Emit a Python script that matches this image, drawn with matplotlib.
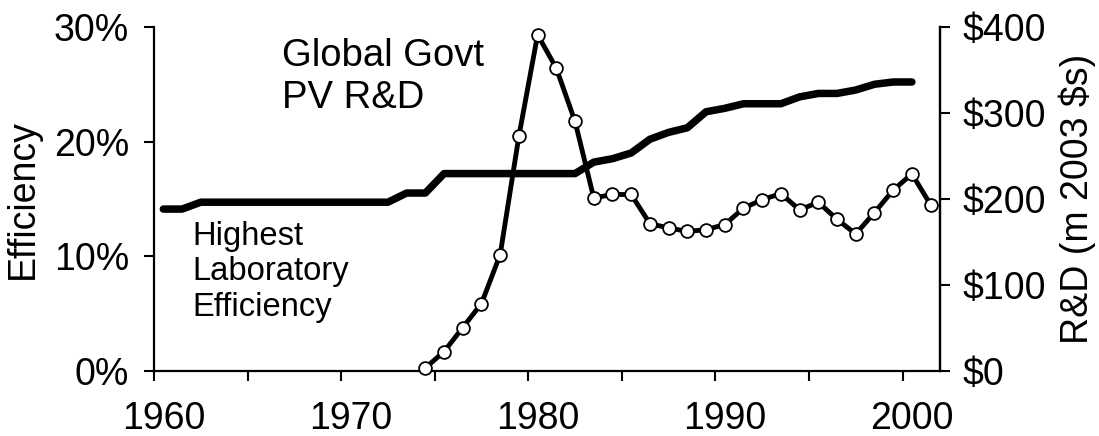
import matplotlib
matplotlib.use("Agg")
import matplotlib.pyplot as plt
from matplotlib.transforms import ScaledTranslation
import numpy as np

plt.rcParams['font.family'] = ['Liberation Sans', 'DejaVu Sans']

#%% Data (points sit in the middle of each year)

eff_years = list(range(1960, 2001))
eff_values = [14.1, 14.1, 14.7, 14.7, 14.7, 14.7, 14.7, 14.7, 14.7, 14.7,
              14.7, 14.7, 14.7, 15.5, 15.5, 17.2, 17.2, 17.2, 17.2, 17.2,
              17.2, 17.2, 17.2, 18.2, 18.5, 19.0, 20.2, 20.8, 21.2, 22.6,
              22.9, 23.3, 23.3, 23.3, 23.9, 24.2, 24.2, 24.5, 25.0, 25.2,
              25.2]

rd_years = list(range(1974, 2002))
rd_values = [3, 22, 50, 78, 135, 273, 391, 352, 290, 201,
             205, 205, 171, 166, 162, 164, 170, 189, 199, 206,
             187, 196, 176, 159, 184, 210, 229, 193]

eff_ticks = [0, 10, 20, 30]
eff_labels = ['0%', '10%', '20%', '30%']
rd_ticks = [0, 100, 200, 300, 400]
rd_labels = [r'\$0', r'\$100', r'\$200', r'\$300', r'\$400']
year_ticks = [1960, 1970, 1980, 1990, 2000]

#%% Plot

fig = plt.figure(figsize=(10.99, 4.36), dpi=100)
ax = fig.add_axes([0.1401, 0.1502, 0.7152, 0.7878])
ax2 = ax.twinx()

ax.plot(np.array(eff_years) + 0.5, eff_values, color='black', lw=5.4,
        solid_capstyle='round', solid_joinstyle='round', zorder=2)
ax2.plot(np.array(rd_years) + 0.5, rd_values, color='black', lw=3.5,
         marker='o', ms=9.2, mfc='white', mec='black', mew=1.3,
         clip_on=False, zorder=3)

ax.set_xlim(1960, 2002)
ax.set_ylim(0, 30)
ax2.set_ylim(0, 400)

for a in (ax, ax2):
    a.spines['top'].set_visible(False)
    for s in a.spines.values():
        s.set_linewidth(1.6)
ax2.spines['left'].set_visible(False)
ax2.spines['bottom'].set_visible(False)

ax.set_xticks(year_ticks)
ax.set_xticks([1965, 1975, 1985, 1995], minor=True)
ax.set_yticks(eff_ticks, eff_labels)
ax2.set_yticks(rd_ticks, rd_labels)

ax.tick_params(axis='x', which='both', direction='out', length=7, width=1.5,
               labelsize=27, pad=15)
ax.tick_params(axis='y', direction='out', length=7, width=1.5,
               labelsize=27, pad=11)
ax2.tick_params(axis='y', direction='out', length=7, width=1.5,
                labelsize=27, pad=9.5)

# labels in the source sit half a year right of their tick
shift = ScaledTranslation(0.0935, 0, fig.dpi_scale_trans)
for lab in ax.get_xticklabels():
    lab.set_transform(lab.get_transform() + shift)

ax.set_ylabel('Efficiency', fontsize=27, labelpad=9)
ax2.set_ylabel(r'R&D (m 2003 \$s)', fontsize=27, labelpad=9)

ax.text(1966.85, 29.0, 'Global Govt\nPV R&D', fontsize=27.5, va='top', ha='left')
ax.text(1962.05, 13.1, 'Highest\nLaboratory\nEfficiency', fontsize=23.6,
        va='top', ha='left')

fig.savefig('out.png', dpi=100)
